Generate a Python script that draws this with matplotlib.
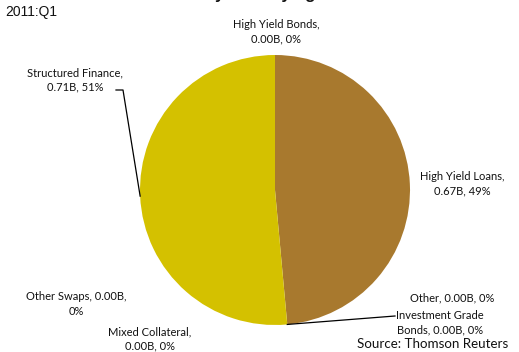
import numpy as np
import matplotlib
matplotlib.use("Agg")
import matplotlib.pyplot as plt

# data
categories = ["High Yield Bonds", "High Yield Loans", "Other", "Investment Grade Bonds",
              "Mixed Collateral", "Other Swaps", "Structured Finance"]
values = [0.00, 0.67, 0.00, 0.00, 0.00, 0.00, 0.71]
label_text = ["High Yield Bonds,\n0.00B, 0%", "High Yield Loans,\n0.67B, 49%",
              "Other, 0.00B, 0%", "Investment Grade\nBonds, 0.00B, 0%",
              "Mixed Collateral,\n0.00B, 0%", "Other Swaps, 0.00B,\n0%",
              "Structured Finance,\n0.71B, 51%"]
colors = ["#D4C100", "#A8792E", "#A8792E", "#A8792E", "#D4C100", "#D4C100", "#D4C100"]

W, H = 519, 352
fig = plt.figure(figsize=(W / 100, H / 100), dpi=100)
ax = fig.add_axes([0, 0, 1, 1])

cx, cy, r = 275, 162, 135
wedges, _ = ax.pie(values, colors=colors, startangle=90, counterclock=False,
                   radius=r, center=(cx, cy), frame=True,
                   wedgeprops=dict(linewidth=0))
ax.set_xlim(0, W)
ax.set_ylim(0, H)
ax.set_aspect("auto")
ax.axis("off")

lab_font = dict(family="Lato", fontsize=8, color="#111111", linespacing=1.4)

# label positions (pixel coords, y from top)
label_pos = {
    "High Yield Bonds": (276, 32),
    "High Yield Loans": (462, 184),
    "Other": (452, 298),
    "Investment Grade Bonds": (440, 323),
    "Mixed Collateral": (150, 339),
    "Other Swaps": (76, 304),
    "Structured Finance": (75, 80),
}

def edge_point(w):
    th = np.deg2rad((w.theta1 + w.theta2) / 2)
    return cx + r * np.cos(th), cy + r * np.sin(th)

for w, name, txt in zip(wedges, categories, label_text):
    x, y = label_pos[name]
    ax.text(x, H - y, txt, ha="center", va="center", **lab_font)

# leader lines
ex, ey = edge_point(wedges[categories.index("Structured Finance")])
ax.plot([116, 123, ex], [H - 90, H - 90, ey], color="black", lw=0.9)
ex, ey = edge_point(wedges[categories.index("Investment Grade Bonds")])
ax.plot([395, ex], [H - 316, ey], color="black", lw=0.9)

fig.text(5 / W, 1 - 12 / H, "2011:Q1", family="Liberation Sans", fontsize=10,
         ha="left", va="center", color="#111111")
fig.text(508 / W, 1 - 344 / H, "Source: Thomson Reuters", family="Lato", fontsize=9.6,
         ha="right", va="center", color="#111111")
# title, cut off at the top of the image
fig.text(0.5 - 18 / W, 1 + 0.5 / H, "CDO Issuance by Underlying Collateral",
         family="Liberation Sans", fontsize=12, fontweight="bold",
         ha="center", va="baseline", color="#111111")

fig.savefig("out.png", dpi=100)
